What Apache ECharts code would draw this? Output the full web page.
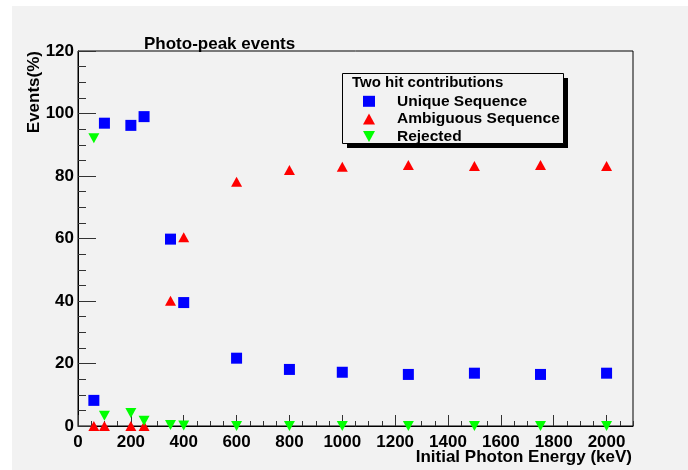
<!DOCTYPE html>
<html>
<head>
<meta charset="utf-8">
<script src="https://cdn.jsdelivr.net/npm/echarts@6/dist/echarts.min.js"></script>
<style>
  html, body { margin: 0; padding: 0; background: #ffffff; }
  #canvasBg { position: absolute; left: 12px; top: 6px; width: 676px; height: 464px; background: #f2f2f2; }
  #chart { position: absolute; left: 0; top: 0; width: 688px; height: 470px; }
</style>
</head>
<body>
<div id="canvasBg"></div>
<div id="chart"></div>
<script>
// Photon energies (keV) at which the event fractions were computed
const energies = [60, 100, 200, 250, 350, 400, 600, 800, 1000, 1250, 1500, 1750, 2000];
// Two-hit contributions, percent of photo-peak events
const uniqueSeq = [8.2, 96.9, 96.2, 99.0, 59.8, 39.5, 21.7, 18.1, 17.2, 16.5, 16.9, 16.5, 16.9];
const ambiguousSeq = [0, 0, 0, 0, 40.1, 60.4, 78.2, 81.9, 83.0, 83.5, 83.2, 83.5, 83.2];
const rejected = [92.1, 3.3, 4.2, 1.7, 0.3, 0.2, 0, 0, 0, 0, 0, 0, 0];

const seriesNames = ['Unique Sequence', 'Ambiguous Sequence', 'Rejected'];
const xTicks = [0, 200, 400, 600, 800, 1000, 1200, 1400, 1600, 1800, 2000];
const yTicks = [0, 20, 40, 60, 80, 100, 120];

const FONT = '"Liberation Sans", Arial, Helvetica, sans-serif';
const downTriangle = 'path://M0,0 L10,0 L5,9 Z';

function pairs(xs, ys) { return xs.map((x, i) => [x, ys[i]]); }

const chart = echarts.init(document.getElementById('chart'), null, { renderer: 'canvas' });

chart.setOption({
  backgroundColor: 'transparent',
  animation: false,
  grid: {
    left: 78, top: 51, width: 555, height: 375,
    show: true, borderColor: '#000', borderWidth: 1, backgroundColor: 'transparent'
  },
  xAxis: [
    {
      type: 'value', min: 0, max: 2100, interval: 200, position: 'bottom',
      axisLine: { show: true, onZero: false, lineStyle: { color: '#000', width: 1 } },
      axisTick: { show: true, inside: true, length: 11, lineStyle: { color: '#333' } },
      axisLabel: {
        show: true, margin: 8, showMaxLabel: false,
        color: '#000', fontFamily: FONT, fontWeight: 'bold', fontSize: 17,
        formatter: v => (xTicks.indexOf(v) >= 0 ? String(v) : '')
      },
      splitLine: { show: false }
    },
    {
      // fine ticks every 50 keV
      type: 'value', min: 0, max: 2100, interval: 50, position: 'bottom', offset: 0,
      axisLine: { show: false },
      axisTick: { show: true, inside: true, length: 5, lineStyle: { color: '#333' } },
      axisLabel: { show: false },
      splitLine: { show: false }
    }
  ],
  yAxis: {
    type: 'value', min: 0, max: 120, interval: 20,
    axisLine: { show: true, onZero: false, lineStyle: { color: '#000', width: 1 } },
    axisTick: { show: true, inside: true, length: 18, lineStyle: { color: '#333' } },
    minorTick: { show: true, splitNumber: 4, length: 8, lineStyle: { color: '#333' } },
    axisLabel: {
      margin: 4, color: '#000', fontFamily: FONT, fontWeight: 'bold', fontSize: 17,
      formatter: v => (yTicks.indexOf(v) >= 0 ? String(v) : '')
    },
    splitLine: { show: false }
  },
  legend: {
    orient: 'vertical', left: 363, top: 93.3, z: 10, padding: 0,
    selectedMode: false,
    itemWidth: 12, itemHeight: 11, itemGap: 1.6,
    data: [
      { name: seriesNames[0], icon: 'rect' },
      { name: seriesNames[1], icon: 'triangle' },
      { name: seriesNames[2], icon: downTriangle }
    ],
    itemStyle: { opacity: 1 },
    textStyle: {
      color: '#000', fontFamily: FONT, fontWeight: 'bold', fontSize: 15.5,
      lineHeight: 15, padding: [0, 0, 0, 17]
    }
  },
  graphic: [
    { type: 'rect', z: 5, silent: true, shape: { x: 347, y: 78, width: 221, height: 70 }, style: { fill: '#000' } },
    { type: 'rect', z: 6, silent: true, shape: { x: 342.5, y: 73.5, width: 221, height: 70 }, style: { fill: '#f2f2f2', stroke: '#000', lineWidth: 1 } },
    { type: 'text', z: 7, silent: true, x: 352, y: 83,
      style: { text: 'Two hit contributions', fill: '#000', font: 'bold 15px ' + FONT, textAlign: 'left', textVerticalAlign: 'middle' } },
    { type: 'text', z: 7, silent: true, x: 144, y: 44,
      style: { text: 'Photo-peak events', fill: '#000', font: 'bold 17px ' + FONT, textAlign: 'left', textVerticalAlign: 'middle' } },
    { type: 'text', z: 7, silent: true, x: 632, y: 457,
      style: { text: 'Initial Photon Energy (keV)', fill: '#000', font: 'bold 17px ' + FONT, textAlign: 'right', textVerticalAlign: 'middle' } },
    { type: 'text', z: 7, silent: true, x: 34, y: 51, rotation: Math.PI / 2,
      style: { text: 'Events(%)', fill: '#000', font: 'bold 17px ' + FONT, textAlign: 'right', textVerticalAlign: 'middle' } }
  ],
  series: [
    {
      name: seriesNames[0], type: 'scatter', xAxisIndex: 0, clip: false, z: 3,
      symbol: 'rect', symbolSize: 11,
      itemStyle: { color: '#0000ff', opacity: 1 },
      data: pairs(energies, uniqueSeq)
    },
    {
      name: seriesNames[1], type: 'scatter', xAxisIndex: 0, clip: false, z: 3,
      symbol: 'triangle', symbolSize: [11, 10],
      itemStyle: { color: '#ff0000', opacity: 1 },
      data: pairs(energies, ambiguousSeq)
    },
    {
      name: seriesNames[2], type: 'scatter', xAxisIndex: 0, clip: false, z: 3,
      symbol: downTriangle, symbolSize: [11, 10],
      itemStyle: { color: '#00ff00', opacity: 1 },
      data: pairs(energies, rejected)
    }
  ]
});
</script>
</body>
</html>
